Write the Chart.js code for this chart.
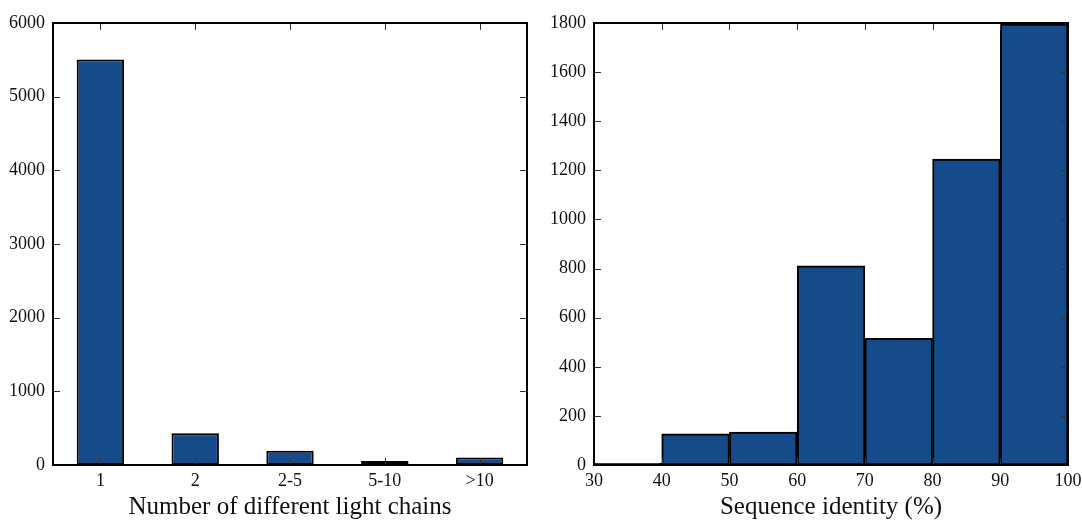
<!DOCTYPE html>
<html>
<head>
<meta charset="utf-8">
<script src="https://cdn.jsdelivr.net/npm/chart.js@4"></script>
<style>
  html, body { margin: 0; padding: 0; background: #fff; }
  #wrap { position: relative; width: 1082px; height: 523px; }
  #c1 { position: absolute; left: 0; top: 0; }
  #c2 { position: absolute; left: 540px; top: 0; }
</style>
</head>
<body>
<div id="wrap">
  <canvas id="c1" width="540" height="523"></canvas>
  <canvas id="c2" width="542" height="523"></canvas>
</div>
<script>
// Left panel: number of different light chains
const chainCategories = ['1', '2', '2-5', '5-10', '>10'];
const chainCounts = [5505, 430, 195, 55, 102];
const chainYTicks = [0, 1000, 2000, 3000, 4000, 5000, 6000];

// Right panel: sequence identity histogram (bin centers, bin width 10)
const identityBinCenters = [35, 45, 55, 65, 75, 85, 95];
const identityCounts = [7, 127, 134, 811, 516, 1246, 1796];
const identityXTicks = [30, 40, 50, 60, 70, 80, 90, 100];
const identityYTicks = [0, 200, 400, 600, 800, 1000, 1200, 1400, 1600, 1800];

const BAR_COLOR = '#154a8b';
const FONT = "'Liberation Serif', 'DejaVu Serif', serif";
Chart.defaults.font.family = FONT;
Chart.defaults.color = '#111';
Chart.defaults.animation = false;

const TICK_SIZE = 18;
const TITLE_SIZE = 25;

const framePlugin = {
  id: 'frame',
  afterDatasetsDraw(chart) {
    const { ctx, chartArea: a, scales: { x, y } } = chart;
    const L = 7;
    ctx.save();
    ctx.strokeStyle = '#333';
    ctx.lineWidth = 1;
    const line = (x1, y1, x2, y2) => { ctx.beginPath(); ctx.moveTo(x1, y1); ctx.lineTo(x2, y2); ctx.stroke(); };
    x.ticks.forEach((t, i) => {
      const px = Math.round(x.getPixelForTick(i)) + 0.5;
      line(px, a.bottom, px, a.bottom - L);
      line(px, a.top, px, a.top + L);
    });
    y.ticks.forEach((t, i) => {
      const py = Math.round(y.getPixelForTick(i)) + 0.5;
      line(a.left, py, a.left + L, py);
      line(a.right, py, a.right - L, py);
    });
    ctx.lineWidth = 2;
    ctx.strokeStyle = '#000';
    ctx.strokeRect(a.left, a.top, a.right - a.left, a.bottom - a.top);
    ctx.restore();
  }
};

function makeYScale(maxV, ticksArr, width) {
  return {
    min: 0, max: maxV,
    afterBuildTicks(scale) { scale.ticks = ticksArr.map(v => ({ value: v })); },
    grid: { display: false, drawTicks: false },
    border: { display: false },
    ticks: { padding: 8, font: { size: TICK_SIZE }, color: '#111', callback: v => String(v) },
    afterFit(scale) { scale.width = width; scale.paddingTop = 0; scale.paddingBottom = 0; }
  };
}

function xFit(scale) { scale.height = 58; scale.paddingLeft = 0; scale.paddingRight = 0; }

new Chart(document.getElementById('c1'), {
  type: 'bar',
  data: {
    labels: chainCategories,
    datasets: [{
      data: chainCounts,
      backgroundColor: BAR_COLOR,
      borderColor: '#000',
      borderWidth: 2,
      borderSkipped: false,
      barPercentage: 0.5,
      categoryPercentage: 1.0
    }]
  },
  options: {
    responsive: false,
    layout: { padding: { top: 23, right: 13, left: 0, bottom: 0 } },
    plugins: { legend: { display: false }, tooltip: { enabled: false } },
    scales: {
      x: {
        grid: { display: false, drawTicks: false },
        border: { display: false },
        ticks: { padding: 5, font: { size: TICK_SIZE }, color: '#111', maxRotation: 0 },
        title: { display: true, text: 'Number of different light chains', font: { size: TITLE_SIZE }, color: '#111', padding: { top: 0, bottom: 1 } },
        afterFit: xFit
      },
      y: makeYScale(6000, chainYTicks, 53)
    }
  },
  plugins: [framePlugin]
});

new Chart(document.getElementById('c2'), {
  type: 'bar',
  data: {
    datasets: [{
      data: identityBinCenters.map((c, i) => ({ x: c, y: identityCounts[i] })),
      backgroundColor: BAR_COLOR,
      borderColor: '#000',
      borderWidth: 2,
      borderSkipped: false,
      barPercentage: 1.0,
      categoryPercentage: 1.0
    }]
  },
  options: {
    responsive: false,
    layout: { padding: { top: 23, right: 14, left: 0, bottom: 0 } },
    plugins: { legend: { display: false }, tooltip: { enabled: false } },
    scales: {
      x: {
        type: 'linear',
        min: 30, max: 100,
        offset: false,
        afterBuildTicks(scale) { scale.ticks = identityXTicks.map(v => ({ value: v })); },
        grid: { display: false, drawTicks: false },
        border: { display: false },
        ticks: { padding: 5, font: { size: TICK_SIZE }, color: '#111', maxRotation: 0, callback: v => String(v) },
        title: { display: true, text: 'Sequence identity (%)', font: { size: TITLE_SIZE }, color: '#111', padding: { top: 0, bottom: 1 } },
        afterFit: xFit
      },
      y: makeYScale(1800, identityYTicks, 54)
    }
  },
  plugins: [framePlugin]
});
</script>
</body>
</html>
